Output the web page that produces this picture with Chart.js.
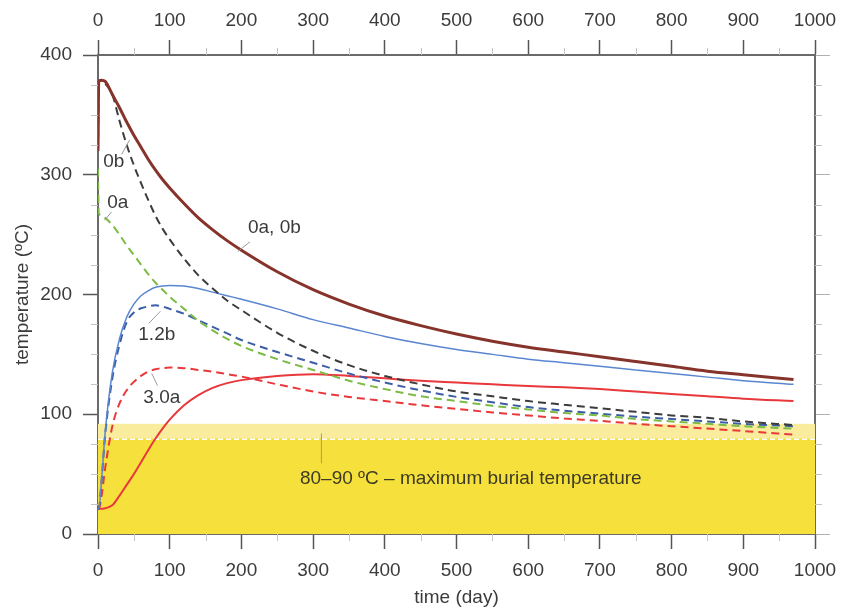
<!DOCTYPE html>
<html>
<head>
<meta charset="utf-8">
<script src="https://cdn.jsdelivr.net/npm/chart.js@4/dist/chart.umd.min.js"></script>
<style>
  html, body { margin: 0; padding: 0; background: #fff; }
  #wrap { width: 853px; height: 610px; }
</style>
</head>
<body>
<div id="wrap"><canvas id="chart"></canvas></div>
<script>
// ===== data (time in days, temperature in degC) =====
const days      = [0, 1, 5, 10, 20, 30, 40, 50, 60, 70, 80, 90, 100, 120, 140, 160, 180, 200, 250, 300, 350, 400, 450, 500, 550, 600, 650, 700, 750, 800, 850, 900, 970];
const run0ab    = [320, 378, 379, 378, 367, 356, 344, 333, 323, 313, 304, 296, 289, 276, 264, 254, 245, 237, 219, 204, 192, 182, 174, 167, 161, 156, 152, 148, 144, 140, 136, 133, 129];
const run0b     = [320, 378, 379, 376, 367, 345, 325, 308, 293, 279, 266, 255, 246, 230, 216, 205, 195, 187, 168, 153, 141, 132, 125, 119, 115, 111, 108, 105, 102, 99, 97, 94, 91];
const run0a     = [305, 268, 266, 264, 258, 250, 241, 233, 225, 217, 210, 204, 198, 188, 178, 170, 163, 157, 146, 137, 128, 121, 115, 111, 107, 104, 101, 99, 96, 94, 92, 90, 88];
const run12b    = [21, 21, 45, 85, 135, 163, 181, 192, 199, 203, 206, 207, 207.5, 207, 205, 202, 199, 196, 188, 179, 172, 165, 159, 154, 150, 146, 143, 140, 137, 134, 131, 128, 125];
const run12bDsh = [21, 21, 45, 83, 130, 158, 177, 185, 188.5, 190, 191, 190, 188, 184, 178.5, 173, 167.5, 162, 152, 143, 134, 126.5, 120, 114.5, 110, 106, 103, 100.5, 98, 96, 94, 92, 90];
const run30a    = [21, 21, 21, 21.5, 24, 32, 41, 50, 60, 70, 79.5, 88, 95.5, 107.5, 116, 122, 126, 128.5, 132, 133.5, 132, 130, 128, 126.5, 125, 123.5, 122.5, 121, 119, 117, 115, 113, 111];
const run30aDsh = [21, 21, 32, 55, 90, 109, 120, 127, 132, 135.5, 137.5, 138.5, 139, 138.5, 137, 135.5, 133.5, 131.5, 125, 119, 114.5, 111, 107.5, 104.5, 101.5, 99, 96.5, 94.5, 92, 90, 88, 86, 83];

const bandLow = 80;    // maximum burial temperature range
const bandHigh = 92;

const xTicks = [0, 100, 200, 300, 400, 500, 600, 700, 800, 900, 1000];
const yTicks = [0, 100, 200, 300, 400];

// labels on the plot (data coordinates) and their leader lines
const notes = [
  { text: '0b', x: 22, y: 311 },
  { text: '0a', x: 27.5, y: 277 },
  { text: '0a, 0b', x: 246, y: 255.5 },
  { text: '1.2b', x: 82, y: 166 },
  { text: '3.0a', x: 89, y: 113.6 },
  { text: '80\u201390 \u00baC \u2013 maximum burial temperature', x: 520, y: 46 }
];
const leaders = [
  [33, 317, 44, 329],
  [19, 269, 9, 262],
  [212, 244, 195, 236],
  [71, 176, 87, 186],
  [83, 124, 75, 134],
  [311.6, 84, 311.6, 59]
];

const FONT = 'Liberation Sans, Arial, Helvetica, sans-serif';
const TXT = '#3b3b3b';

const pts = arr => days.map((d, i) => ({ x: d, y: arr[i] }));

function line(data, color, width, dashed) {
  return {
    data: pts(data),
    borderColor: color,
    borderWidth: width,
    borderDash: dashed ? [8, 5] : [],
    pointRadius: 0,
    fill: false,
    cubicInterpolationMode: 'monotone',
    tension: 0.4
  };
}

// yellow band behind the curves
const bandPlugin = {
  id: 'band',
  beforeDatasetsDraw(chart) {
    const { ctx, chartArea: a, scales: { y } } = chart;
    const y0 = y.getPixelForValue(0), yl = y.getPixelForValue(bandLow), yh = y.getPixelForValue(bandHigh);
    ctx.save();
    ctx.fillStyle = '#f9ec9c';
    ctx.fillRect(a.left, yh, a.right - a.left, yl - yh);
    ctx.fillStyle = '#f6e03c';
    ctx.fillRect(a.left, yl, a.right - a.left, y0 - yl);
    ctx.strokeStyle = '#ffffff';
    ctx.lineWidth = 1.5;
    ctx.setLineDash([5, 3]);
    ctx.beginPath();
    ctx.moveTo(a.left, yl + 1);
    ctx.lineTo(a.right, yl + 1);
    ctx.stroke();
    ctx.restore();
  }
};

// minor ticks, labels and leader lines
const decoPlugin = {
  id: 'deco',
  afterDatasetsDraw(chart) {
    const { ctx, scales: { x, y } } = chart;
    ctx.save();
    ctx.strokeStyle = '#9a9a9a';
    ctx.lineWidth = 1;
    leaders.forEach(l => {
      ctx.beginPath();
      ctx.moveTo(x.getPixelForValue(l[0]), y.getPixelForValue(l[1]));
      ctx.lineTo(x.getPixelForValue(l[2]), y.getPixelForValue(l[3]));
      ctx.stroke();
    });
    ctx.font = '19px ' + FONT;
    ctx.textAlign = 'center';
    ctx.textBaseline = 'middle';
    notes.forEach((n, i) => {
      ctx.fillStyle = i === notes.length - 1 ? '#3d3a26' : TXT;
      ctx.fillText(n.text, x.getPixelForValue(n.x), y.getPixelForValue(n.y));
    });
    ctx.restore();
  },
  afterDraw(chart) {
    const { ctx, chartArea: a, scales: { x, y } } = chart;
    ctx.save();
    ctx.strokeStyle = '#c4c4c4';
    ctx.lineWidth = 1;
    ctx.beginPath();
    for (let v = 50; v < 1000; v += 100) {
      const px = Math.round(x.getPixelForValue(v)) + 0.5;
      ctx.moveTo(px, a.bottom); ctx.lineTo(px, a.bottom + 7);
      ctx.moveTo(px, a.top); ctx.lineTo(px, a.top - 7);
    }
    for (let v = 25; v < 400; v += 25) {
      if (v % 100 === 0) continue;
      const py = Math.round(y.getPixelForValue(v)) + 0.5;
      ctx.moveTo(a.left, py); ctx.lineTo(a.left - 7, py);
      ctx.moveTo(a.right, py); ctx.lineTo(a.right + 7, py);
    }
    ctx.stroke();
    ctx.restore();
  }
};

const tickFont = { family: FONT, size: 19 };
const border = { display: true, color: '#6a6a6a', width: 2 };
const grid = { drawOnChartArea: false, drawTicks: true, tickLength: 15, tickColor: '#555', tickWidth: 1.5 };
const plain = v => String(v);

new Chart(document.getElementById('chart'), {
  type: 'line',
  data: {
    datasets: [
      line(run0ab, '#86332b', 3, false),
      line(run0b, '#3c3c3c', 2, true),
      line(run0a, '#7cbb45', 2, true),
      line(run12b, '#5a86cf', 1.5, false),
      line(run12bDsh, '#3b5ea6', 2, true),
      line(run30a, '#e8383b', 2, false),
      line(run30aDsh, '#e8383b', 2, true)
    ]
  },
  options: {
    responsive: true,
    maintainAspectRatio: false,
    animation: false,
    layout: { padding: 0 },
    plugins: { legend: { display: false }, tooltip: { enabled: false } },
    scales: {
      x: {
        type: 'linear', position: 'bottom', min: 0, max: 1000,
        afterBuildTicks: s => { s.ticks = xTicks.map(v => ({ value: v })); },
        afterFit: s => { s.height = 76; },
        border, grid,
        ticks: { font: tickFont, color: TXT, padding: 10, maxRotation: 0, callback: plain },
        title: { display: true, text: 'time (day)', font: tickFont, color: TXT, padding: { top: 0, bottom: 1 } }
      },
      x2: {
        type: 'linear', position: 'top', min: 0, max: 1000,
        afterBuildTicks: s => { s.ticks = xTicks.map(v => ({ value: v })); },
        afterFit: s => { s.height = 55; },
        border, grid,
        ticks: { font: tickFont, color: TXT, padding: 8, maxRotation: 0, callback: plain }
      },
      y: {
        type: 'linear', position: 'left', min: 0, max: 400,
        afterBuildTicks: s => { s.ticks = yTicks.map(v => ({ value: v })); },
        afterFit: s => { s.width = 98; },
        border, grid,
        ticks: { font: tickFont, color: TXT, padding: 11, callback: plain },
        title: { display: true, text: 'temperature (\u00baC)', font: tickFont, color: TXT, padding: { top: 11, bottom: 0 } }
      },
      y2: {
        type: 'linear', position: 'right', min: 0, max: 400,
        afterBuildTicks: s => { s.ticks = yTicks.map(v => ({ value: v })); },
        afterFit: s => { s.width = 38; },
        border,
        grid: { drawOnChartArea: false, drawTicks: true, tickLength: 15, tickColor: '#b0b0b0', tickWidth: 1 },
        ticks: { display: false }
      }
    }
  },
  plugins: [bandPlugin, decoPlugin]
});
</script>
</body>
</html>
